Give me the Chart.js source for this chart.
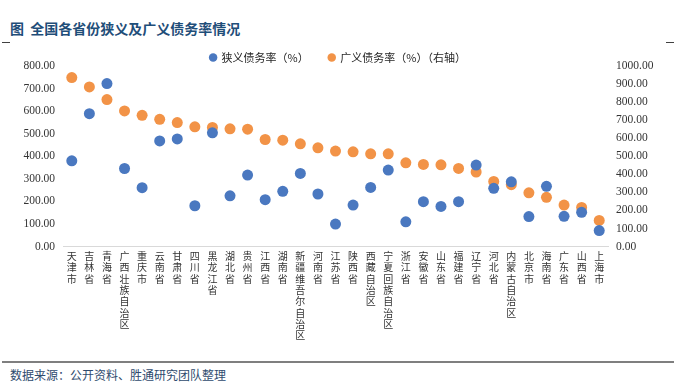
<!DOCTYPE html>
<html>
<head>
<meta charset="utf-8">
<script src="https://cdn.jsdelivr.net/npm/chart.js@4.4.1/dist/chart.umd.min.js"></script>
<style>
  html, body { margin: 0; padding: 0; background: #fff; }
  body { width: 676px; height: 392px; position: relative; overflow: hidden; font-family: "Noto Sans CJK SC", sans-serif; }
  #title { position: absolute; left: 10px; top: 18px; font-size: 14px; font-weight: bold; color: #1f4e79; }
  .dash { position: absolute; top: 42px; width: 8px; height: 1px; background: #404040; }
  #wrap { position: absolute; left: 0; top: 32px; width: 676px; height: 313px; }
  #rule { position: absolute; left: 2px; right: 2px; top: 361px; height: 2px; background: #7f7f7f; }
  #source { position: absolute; left: 10px; top: 366px; font-size: 12px; color: #2f4b6e; }
</style>
</head>
<body>
<div id="title">图&nbsp; 全国各省份狭义及广义债务率情况</div>
<div class="dash" style="left:2px"></div>
<div class="dash" style="right:2px"></div>
<div id="wrap"><canvas id="debtChart"></canvas></div>
<div id="rule"></div>
<div id="source">数据来源：公开资料、胜通研究团队整理</div>
<script>
const provinces = ['天津市', '吉林省', '青海省', '广西壮族自治区', '重庆市', '云南省', '甘肃省', '四川省',
  '黑龙江省', '湖北省', '贵州省', '江西省', '湖南省', '新疆维吾尔自治区', '河南省', '江苏省',
  '陕西省', '西藏自治区', '宁夏回族自治区', '浙江省', '安徽省', '山东省', '福建省', '辽宁省',
  '河北省', '内蒙古自治区', '北京市', '海南省', '广东省', '山西省', '上海市'];

// 狭义债务率 (左轴)
const narrowRate = [380, 589, 722, 346, 261, 468, 477, 181, 504, 225, 317, 208, 245, 324, 233, 100,
  184, 262, 339, 110, 199, 178, 199, 361, 258, 287, 133, 267, 134, 152, 71];

// 广义债务率 (右轴)
const broadRate = [936, 884, 814, 751, 727, 705, 687, 663, 660, 652, 650, 593, 589, 569, 547, 529,
  525, 514, 514, 464, 455, 453, 433, 413, 361, 343, 298, 273, 230, 217, 145];

const leftMax = 800;
const rightMax = 1000;
const tickStep = 100;

const blue = '#4a78c0';
const orange = '#f29347';
const numFont = { family: '"Liberation Serif", "DejaVu Serif", serif', size: 11.5 };
const cjkFamily = '"Noto Sans CJK SC", sans-serif';

// pin the legend height so the plot starts where the original does
const legendHeight = {
  id: 'legendHeight',
  beforeInit(chart) {
    const fit = chart.legend.fit;
    chart.legend.fit = function () {
      fit.call(this);
      this.height = 34;
    };
  }
};

const ctx = document.getElementById('debtChart');

const chart = new Chart(ctx, {
  type: 'line',
  data: {
    labels: provinces,
    datasets: [
      {
        label: '狭义债务率（%）',
        data: narrowRate,
        yAxisID: 'y',
        showLine: false,
        pointRadius: 5.5,
        pointHoverRadius: 5.5,
        pointBorderWidth: 0,
        pointBackgroundColor: blue,
        backgroundColor: blue,
        borderColor: blue
      },
      {
        label: '广义债务率（%）（右轴）',
        data: broadRate,
        yAxisID: 'y1',
        showLine: false,
        pointRadius: 5.5,
        pointHoverRadius: 5.5,
        pointBorderWidth: 0,
        pointBackgroundColor: orange,
        backgroundColor: orange,
        borderColor: orange
      }
    ]
  },
  plugins: [legendHeight],
  options: {
    responsive: true,
    maintainAspectRatio: false,
    animation: false,
    layout: { padding: 0 },
    scales: {
      x: {
        offset: true,
        grid: { display: false, drawTicks: false },
        border: { display: true, color: '#d9d9d9' },
        ticks: {
          autoSkip: false,
          maxRotation: 0,
          minRotation: 0,
          padding: 4,
          color: '#333',
          font: { family: cjkFamily, size: 10, lineHeight: 1.13 },
          callback: function (value) {
            return this.getLabelForValue(value).split('');
          }
        }
      },
      y: {
        position: 'left',
        min: 0,
        max: leftMax,
        grid: { display: false, drawTicks: false },
        border: { display: false },
        ticks: {
          stepSize: tickStep,
          padding: 8,
          color: '#333',
          font: numFont,
          callback: v => v.toFixed(2)
        },
        afterFit: s => { s.width = 63; }
      },
      y1: {
        position: 'right',
        min: 0,
        max: rightMax,
        grid: { display: false, drawTicks: false },
        border: { display: false },
        ticks: {
          stepSize: tickStep,
          padding: 8,
          color: '#333',
          font: numFont,
          callback: v => v.toFixed(2)
        },
        afterFit: s => { s.width = 68; }
      }
    },
    plugins: {
      legend: {
        position: 'top',
        labels: {
          usePointStyle: true,
          pointStyle: 'circle',
          boxWidth: 6,
          boxHeight: 6,
          padding: 20,
          color: '#262626',
          font: { family: cjkFamily, size: 11 }
        }
      },
      tooltip: { enabled: false }
    }
  }
});
</script>
</body>
</html>
